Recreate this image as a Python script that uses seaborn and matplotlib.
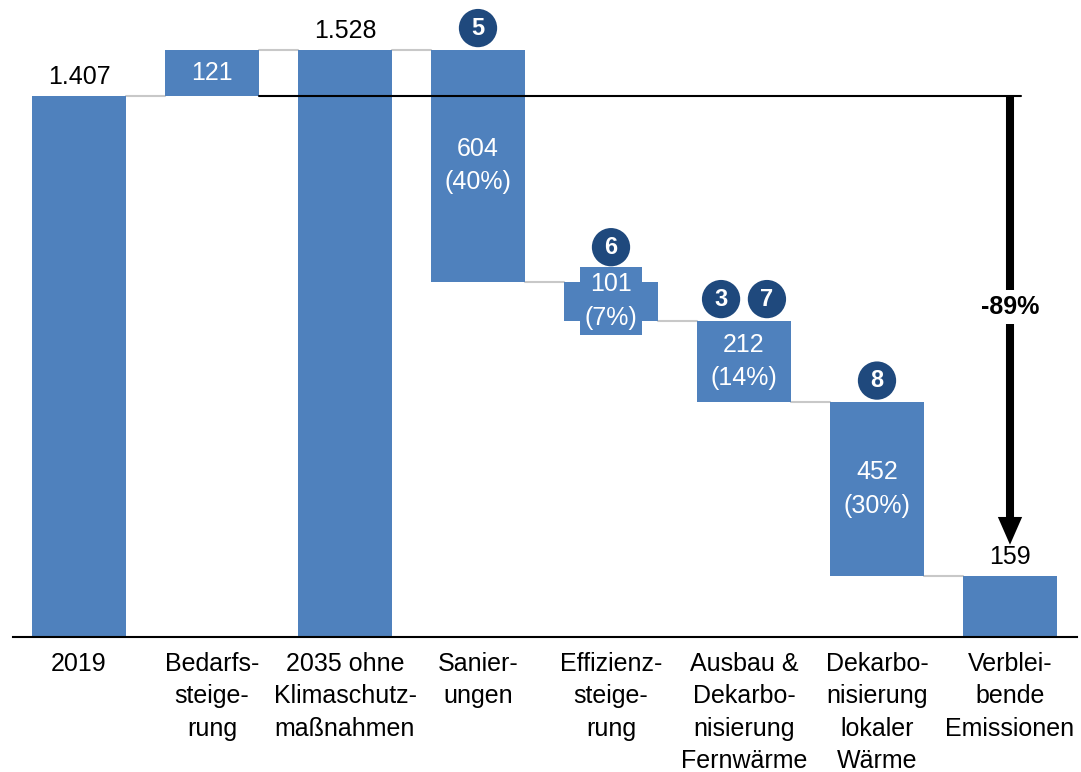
import matplotlib
matplotlib.use("Agg")
import matplotlib.pyplot as plt
import seaborn as sns
import numpy as np
import pandas as pd

categories = ["2019", "Bedarfs-\nsteige-\nrung", "2035 ohne\nKlimaschutz-\nmaßnahmen",
              "Sanier-\nungen", "Effizienz-\nsteige-\nrung",
              "Ausbau &\nDekarbo-\nnisierung\nFernwärme",
              "Dekarbo-\nnisierung\nlokaler\nWärme", "Verblei-\nbende\nEmissionen"]
values = [1407, 121, 1528, -604, -101, -212, -452, 159]
is_total = [True, False, True, False, False, False, False, True]
value_labels = ["1.407", "121", "1.528", "604\n(40%)", "101\n(7%)", "212\n(14%)", "452\n(30%)", "159"]
badges = {3: ["5"], 4: ["6"], 5: ["3", "7"], 6: ["8"]}
total_change_label = "-89%"

BAR = "#4F81BD"
NAVY = "#1F497D"
FONT = ["Liberation Sans", "DejaVu Sans"]
FS = 18

sns.set_theme(style="white")
plt.rcParams["font.family"] = FONT

# compute waterfall bottoms
bottoms, heights = [], []
level = 0
for v, t in zip(values, is_total):
    if t:
        bottoms.append(0); heights.append(v); level = v
    else:
        if v >= 0:
            bottoms.append(level); heights.append(v)
        else:
            bottoms.append(level + v); heights.append(-v)
        level += v
tops = [b + h for b, h in zip(bottoms, heights)]

df = pd.DataFrame({"cat": categories, "h": heights})

fig = plt.figure(figsize=(10.81, 7.72), dpi=100)
ax = fig.add_axes([12.5 / 1081, 135 / 772, 1064 / 1081, 637 / 772])
sns.barplot(data=df, x="cat", y="h", color=BAR, saturation=1, width=0.7, ax=ax, zorder=2)
for p, b in zip(ax.patches, bottoms):
    p.set_y(b)
    p.set_edgecolor("none")

ax.set_xlim(-0.5, len(categories) - 0.5)
ax.set_ylim(0, 1657)
ax.set_xlabel(""); ax.set_ylabel("")
ax.set_yticks([])
for s in ["top", "right", "left"]:
    ax.spines[s].set_visible(False)
ax.spines["bottom"].set_color("black")
ax.spines["bottom"].set_linewidth(1.5)
ax.spines["bottom"].set_zorder(5)
ax.tick_params(axis="x", length=0, pad=10.5)
ax.set_xticks(range(len(categories)))
ax.set_xticklabels(categories, fontsize=FS, color="black", linespacing=1.45, family=FONT)

hw = 0.35
# connectors
for i in range(len(values) - 1):
    lvl = tops[i] if (is_total[i] or values[i] >= 0) else bottoms[i]
    ax.plot([i + hw, i + 1 - hw], [lvl, lvl], color="#C8C8C8", lw=1.5, zorder=1)

# black reference line at 2019 level
ax.plot([1 + hw, 7.08], [values[0], values[0]], color="black", lw=1.5, zorder=4)

# value labels
for i, (lab, t) in enumerate(zip(value_labels, is_total)):
    if t:
        ax.text(i, tops[i] + 18, lab, ha="center", va="bottom", fontsize=FS, color="black")
    else:
        kw = {}
        if heights[i] < 150:
            kw["bbox"] = dict(boxstyle="square,pad=0.2", fc=BAR, ec="none")
        ax.text(i, bottoms[i] + heights[i] / 2, lab, ha="center", va="center",
                fontsize=FS, color="white", linespacing=1.5, zorder=3, **kw)

# badges
for i, labs in badges.items():
    off = 90 if heights[i] < 150 else 56
    n = len(labs)
    for k, lab in enumerate(labs):
        x = i + (k - (n - 1) / 2) * 0.345
        y = tops[i] + off
        ax.scatter([x], [y], s=760, color=NAVY, zorder=6, edgecolors="none")
        ax.text(x, y, lab, ha="center", va="center", fontsize=17, color="white",
                fontweight="bold", zorder=7)

# total change arrow
ax.annotate("", xy=(7, 240), xytext=(7, values[0]),
            arrowprops=dict(arrowstyle="simple,head_length=2.0,head_width=1.75,tail_width=0.58",
                            mutation_scale=10, color="black", lw=0, shrinkA=0, shrinkB=0),
            zorder=5)
ax.text(7, 858, total_change_label, ha="center", va="center", fontsize=FS, fontweight="bold",
        color="black", zorder=6, bbox=dict(boxstyle="square,pad=0.2", fc="white", ec="none"))

fig.savefig("out.png", dpi=100)
